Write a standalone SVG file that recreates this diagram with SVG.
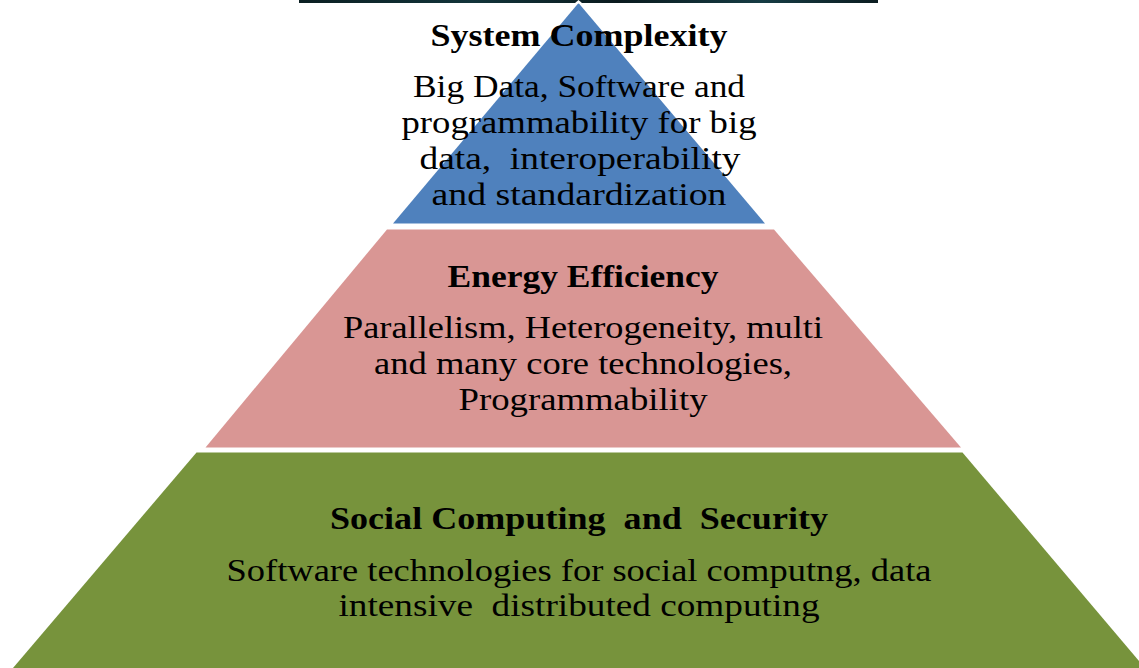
<svg xmlns="http://www.w3.org/2000/svg" width="1139" height="668" viewBox="0 0 1139 668">
<defs>
<linearGradient id="bar" x1="0" y1="0" x2="1" y2="0">
<stop offset="0" stop-color="#0b1f22"/>
<stop offset="0.3" stop-color="#12343a"/>
<stop offset="0.55" stop-color="#0a1a1e"/>
<stop offset="0.8" stop-color="#163c44"/>
<stop offset="1" stop-color="#0b1c20"/>
</linearGradient>
<style>
text{font-family:"Liberation Serif","DejaVu Serif",serif;font-size:32px;fill:#000;text-anchor:middle;white-space:pre}
.h{font-weight:bold}
</style>
</defs>
<rect x="299" y="0" width="579" height="3" fill="url(#bar)"/>
<g id="tier-top">
<polygon points="578.5,3 765,223.5 393,223.5" fill="#4f81bd"/>
<polygon points="578.5,0 582.5,3.5 574.5,3.5" fill="#ffffff"/>
<text class="h" x="579" y="46" textLength="297" lengthAdjust="spacingAndGlyphs">System Complexity</text>
<text x="579" y="97" textLength="332" lengthAdjust="spacingAndGlyphs">Big Data, Software and</text>
<text x="579" y="133" textLength="355" lengthAdjust="spacingAndGlyphs">programmability for big</text>
<text x="580" y="169" textLength="321" lengthAdjust="spacingAndGlyphs" xml:space="preserve">data,  interoperability</text>
<text x="579" y="205" textLength="295" lengthAdjust="spacingAndGlyphs">and standardization</text>
</g>
<g id="tier-middle">
<polygon points="387,229.5 774,229.5 961,447.5 205.5,447.5" fill="#d99694"/>
<text class="h" x="583" y="287" textLength="271" lengthAdjust="spacingAndGlyphs">Energy Efficiency</text>
<text x="583" y="338" textLength="480" lengthAdjust="spacingAndGlyphs">Parallelism, Heterogeneity, multi</text>
<text x="583" y="374" textLength="418" lengthAdjust="spacingAndGlyphs">and many core technologies,</text>
<text x="583" y="410" textLength="249" lengthAdjust="spacingAndGlyphs">Programmability</text>
</g>
<g id="tier-bottom">
<polygon points="196.5,452.5 962.5,452.5 1145,668 13,668" fill="#77933c"/>
<text class="h" x="579" y="529" textLength="498" lengthAdjust="spacingAndGlyphs" xml:space="preserve">Social Computing  and  Security</text>
<text x="579" y="581" textLength="705" lengthAdjust="spacingAndGlyphs">Software technologies for social computng, data</text>
<text x="579" y="616" textLength="481" lengthAdjust="spacingAndGlyphs" xml:space="preserve">intensive  distributed computing</text>
</g>
<g id="connectors"></g>
</svg>
